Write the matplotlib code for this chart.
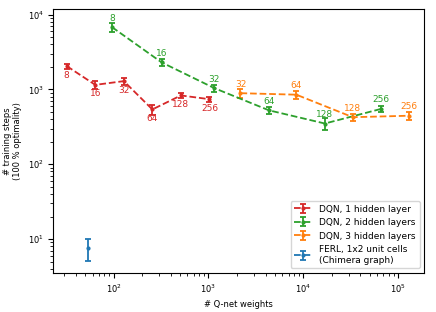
import numpy as np
import matplotlib
matplotlib.use("Agg")
import matplotlib.pyplot as plt

# hidden units per layer
units1 = [8, 16, 32, 64, 128, 256]
units2 = [8, 16, 32, 64, 128, 256]
units3 = [32, 64, 128, 256]

# number of Q-net weights
w1 = [32, 64, 128, 256, 512, 1024]
w2 = [96, 320, 1152, 4352, 16896, 66560]
w3 = [2176, 8448, 33280, 131584]
w_ferl = [54]

# training steps (mean, error)
steps1 = [2050, 1150, 1290, 540, 830, 740]
err1 = [150, 140, 140, 80, 70, 60]
steps2 = [6800, 2300, 1040, 525, 350, 550]
err2 = [1000, 250, 120, 50, 60, 50]
steps3 = [890, 850, 425, 445]
err3 = [120, 110, 50, 50]
steps_ferl = [7.6]
err_ferl = [[2.5], [2.5]]

plt.rcParams['font.size'] = 6
fig = plt.figure(figsize=(4.36, 3.12), dpi=100)
ax = fig.add_axes([0.1227, 0.126, 0.85, 0.8436])

series = [
    (w1, steps1, err1, units1, 'tab:red', 'DQN, 1 hidden layer', -1),
    (w2, steps2, err2, units2, 'tab:green', 'DQN, 2 hidden layers', 1),
    (w3, steps3, err3, units3, 'tab:orange', 'DQN, 3 hidden layers', 1),
]
for x, y, e, lab, c, name, side in series:
    ax.errorbar(x, y, yerr=e, fmt='.--', color=c, capsize=2.5, markersize=4,
                linewidth=1.3, elinewidth=1.3, capthick=1.3, label=name)
    for xi, yi, li in zip(x, y, lab):
        ax.annotate(str(li), (xi, yi), xytext=(0, 6.5 * side), textcoords='offset points',
                    ha='center', va='center', color=c, fontsize=6.5)

ax.errorbar(w_ferl, steps_ferl, yerr=err_ferl, fmt='.--', color='tab:blue', capsize=2.5,
            markersize=4, linewidth=1.3, elinewidth=1.3, capthick=1.3,
            label='FERL, 1x2 unit cells\n(Chimera graph)')

ax.set_xscale('log')
ax.set_yscale('log')
ax.set_xlim(23.2, 1.88e5)
ax.set_ylim(3.55, 1.17e4)
ax.set_xlabel('# Q-net weights')
ax.set_ylabel('# training steps\n(100 % optimality)', labelpad=4)
ax.legend(loc='lower right', fontsize=6.5)

fig.savefig('out.png', dpi=100)
